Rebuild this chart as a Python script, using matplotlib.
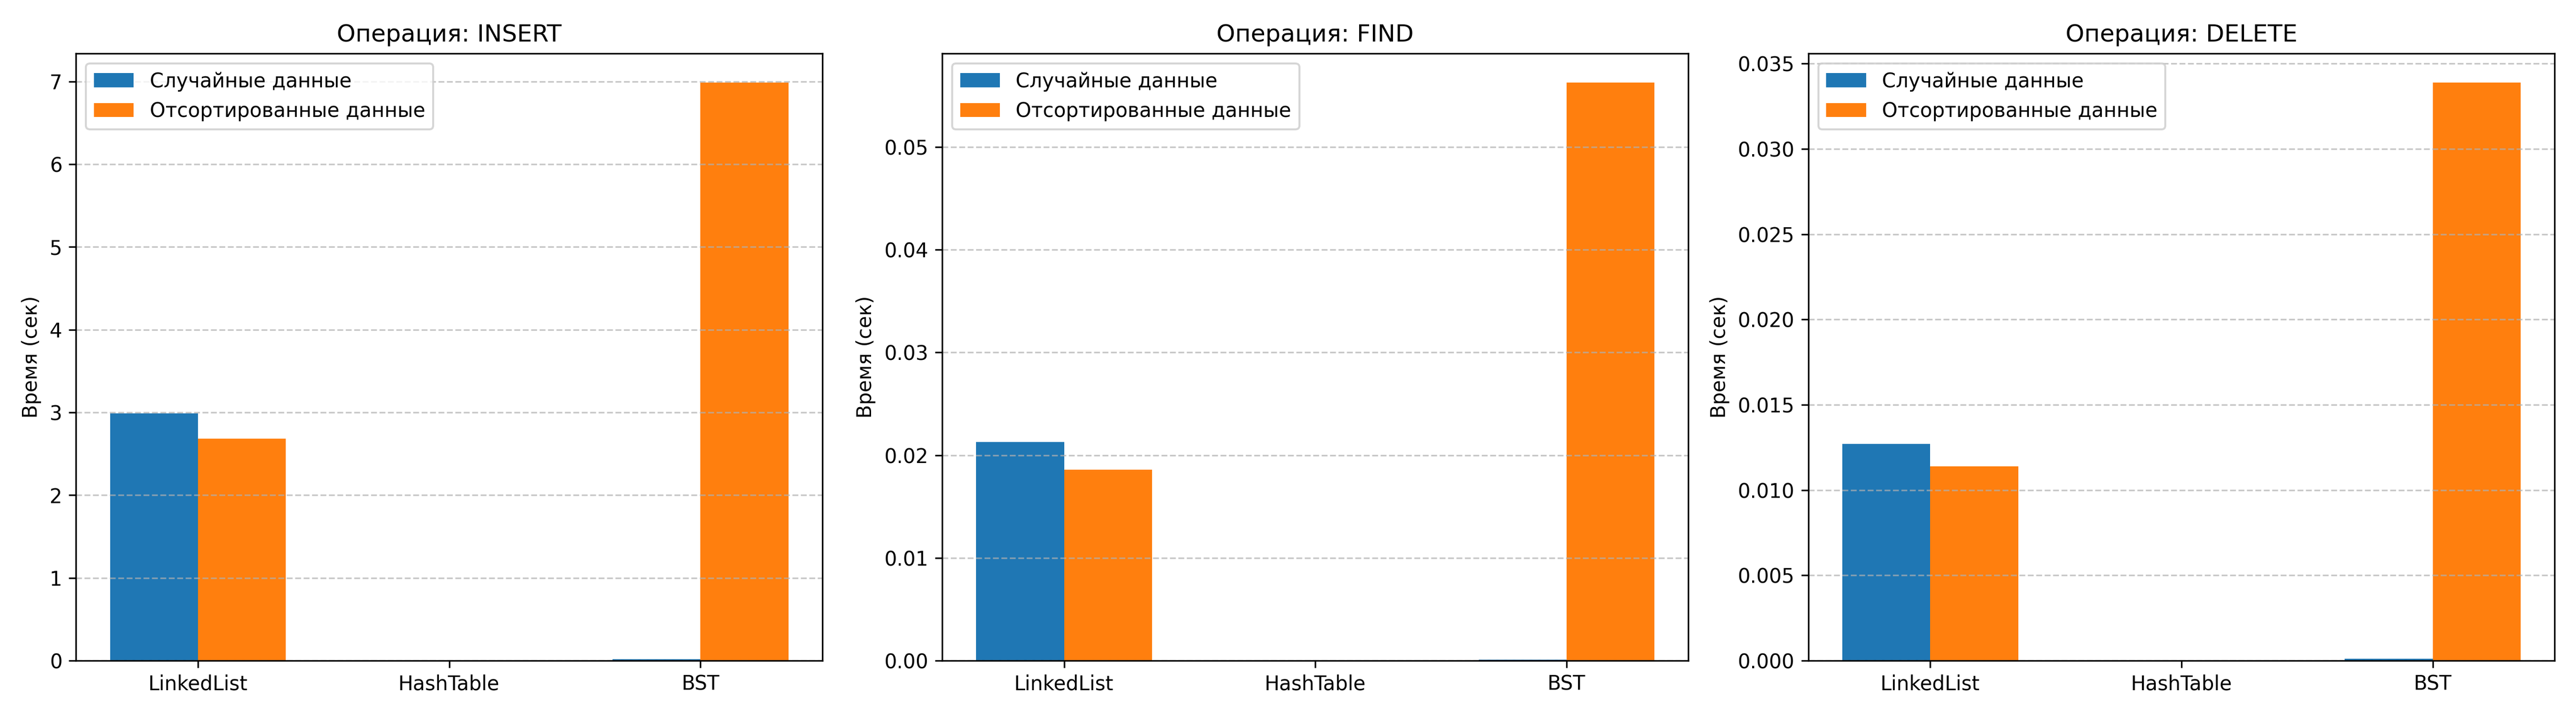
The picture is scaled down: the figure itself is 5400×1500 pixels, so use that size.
import numpy as np
import matplotlib
matplotlib.use('Agg')
import matplotlib.pyplot as plt

structures = ['LinkedList', 'HashTable', 'BST']
operations = ['INSERT', 'FIND', 'DELETE']

# время (сек), случайные / отсортированные данные
insert_random = [2.99, 0.005, 0.015]
insert_sorted = [2.68, 0.003, 6.99]
find_random = [0.0213, 0.00003, 0.0001]
find_sorted = [0.0186, 0.00002, 0.0563]
delete_random = [0.0127, 0.00003, 0.0001]
delete_sorted = [0.0114, 0.00003, 0.0339]

random_times = [insert_random, find_random, delete_random]
sorted_times = [insert_sorted, find_sorted, delete_sorted]

x = np.arange(len(structures))
width = 0.35

fig, axes = plt.subplots(1, 3, figsize=(18, 5))

for ax, op, r, s in zip(axes, operations, random_times, sorted_times):
    ax.bar(x - width / 2, r, width, label='Случайные данные')
    ax.bar(x + width / 2, s, width, label='Отсортированные данные')
    ax.set_title(f'Операция: {op}')
    ax.set_ylabel('Время (сек)')
    ax.set_xticks(x)
    ax.set_xticklabels(structures)
    ax.legend(loc='upper left')
    ax.grid(axis='y', linestyle='--', alpha=0.7)

plt.tight_layout()
plt.savefig('out.png', dpi=300)
